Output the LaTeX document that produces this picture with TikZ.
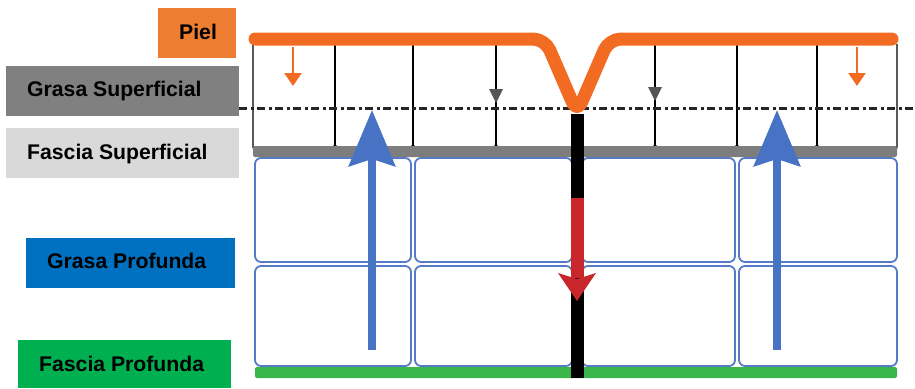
\documentclass[tikz,border=0pt]{standalone}
\usepackage{fontspec}
\setmainfont{Liberation Sans}
\usetikzlibrary{arrows.meta}

\definecolor{skin}{RGB}{242,107,35}
\definecolor{lorange}{RGB}{237,125,49}
\definecolor{lgray}{RGB}{128,128,128}
\definecolor{llight}{RGB}{217,217,217}
\definecolor{lblue}{RGB}{0,112,192}
\definecolor{lgreen}{RGB}{0,176,80}
\definecolor{cellblue}{RGB}{84,122,200}
\definecolor{arrblue}{RGB}{72,114,196}
\definecolor{band}{RGB}{125,125,125}
\definecolor{deepgreen}{RGB}{58,181,74}
\definecolor{cutred}{RGB}{200,38,42}
\definecolor{tipgray}{RGB}{85,85,85}

\begin{document}
\begin{tikzpicture}[x=1pt,y=-1pt,
  labbox/.style={anchor=north west, inner sep=0pt, minimum height=50pt},
  labtxt/.style={anchor=base west, inner sep=0pt, font=\fontsize{21.2}{25}\selectfont\bfseries},
  cell/.style={draw=cellblue, line width=1.8pt, rounded corners=6pt, fill=white},
  wall/.style={draw=black, line width=1.4pt},
  foot/.style={fill=black},
  smallorange/.style={draw=skin, line width=2.4pt, -{Triangle[width=17pt,length=13pt]}},
  bigblue/.style={draw=arrblue, line width=8pt, -{Stealth[width=46pt,length=56pt,inset=7pt]}},
]
\useasboundingbox (0,0) rectangle (915,388);

% deep fat compartments
\foreach \xa/\xb in {255/411, 415/572, 582/735, 739/897}{
  \draw[cell] (\xa,158) rectangle (\xb,262);
  \draw[cell] (\xa,266) rectangle (\xb,366);
}

% superficial fat walls
\draw[wall, rounded corners=5pt] (253,44) -- (253,152) -- (262,152);
\draw[wall, rounded corners=5pt] (897,44) -- (897,152) -- (888,152);
\foreach \x in {335,413,496,655,737,817}{
  \draw[wall] (\x,44) -- (\x,148);
  \fill[foot] (\x,147) circle (2.2pt);
}

% superficial and deep fascia bands
\fill[band, rounded corners=2pt] (253,146) rectangle (897,157);
\fill[deepgreen, rounded corners=2pt] (255,367) rectangle (897,378);

% dash-dot reference line
\draw[black!85, line width=3pt, dash pattern=on 8pt off 3.5pt on 3pt off 3.5pt] (239,108) -- (915,108);

% small arrows in superficial fat
\draw[smallorange] (293,47) -- (293,86);
\draw[smallorange] (857,47) -- (857,86);
\fill[tipgray] (489,89) -- (503,89) -- (496,103) -- cycle;
\fill[tipgray] (648,87) -- (662,87) -- (655,101) -- cycle;

% large upward arrows
\draw[bigblue] (372,350) -- (372,110);
\draw[bigblue] (777,350) -- (777,110);

% central incision line with red cut arrow
\draw[black, line width=13pt] (577,114) -- (577,378);
\draw[cutred, line width=13pt] (577,198) -- (577,278);
\fill[cutred] (558,273) -- (577,279) -- (596,273) -- (577,301) -- cycle;

% skin surface
\draw[skin, line width=13pt, line cap=round, line join=round, rounded corners=12pt]
  (255,39) -- (545,39) -- (577,113) -- (609,39) -- (892,39);

% legend
\node[labbox, fill=lorange, minimum width=78pt] (pielbox) at (158,8) {};
\node[labtxt] (piel) at (179,39.5) {Piel};
\node[labbox, fill=lgray, minimum width=233pt] (gsbox) at (6,66) {};
\node[labtxt] (gs) at (27,96.5) {Grasa Superficial};
\node[labbox, fill=llight, minimum width=233pt] (fsbox) at (6,128) {};
\node[labtxt] (fs) at (27,159) {Fascia Superficial};
\node[labbox, fill=lblue, minimum width=209pt] (gpbox) at (26,238) {};
\node[labtxt] (gp) at (47,268) {Grasa Profunda};
\node[labbox, fill=lgreen, minimum width=213pt, minimum height=48pt] (fpbox) at (18,340) {};
\node[labtxt] (fp) at (39,371) {Fascia Profunda};
\end{tikzpicture}
\end{document}
